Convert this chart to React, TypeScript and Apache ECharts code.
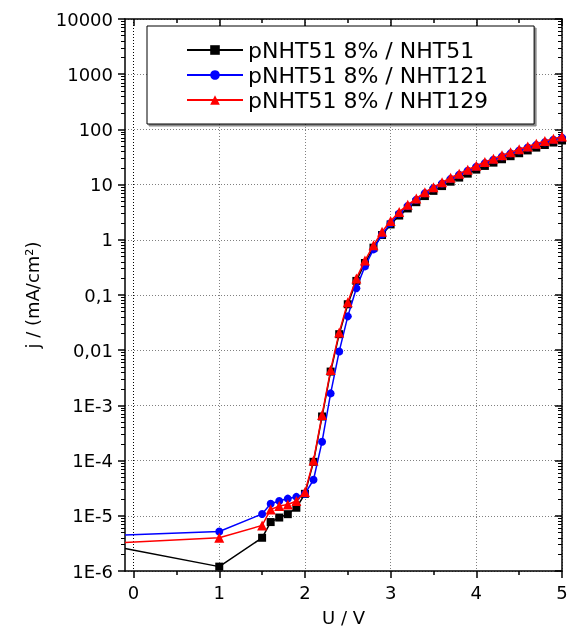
import { useEffect, useRef } from 'react';
import * as echarts from 'echarts';

const voltage = [
  -0.1, 1.0, 1.5, 1.6, 1.7, 1.8, 1.9, 2.0, 2.1, 2.2, 2.3, 2.4, 2.5, 2.6, 2.7, 2.8, 2.9,
  3.0, 3.1, 3.2, 3.3, 3.4, 3.5, 3.6, 3.7, 3.8, 3.9, 4.0, 4.1, 4.2, 4.3, 4.4, 4.5, 4.6,
  4.7, 4.8, 4.9, 5.0,
];

const jNHT51 = [
  2.55e-6, 1.2e-6, 4.0e-6, 7.7e-6, 9.3e-6, 1.07e-5, 1.4e-5, 2.5e-5, 9.5e-5, 6.3e-4,
  4.1e-3, 0.0195, 0.068, 0.18, 0.38, 0.72, 1.22, 1.9, 2.75, 3.7, 4.8, 6.2, 7.7, 9.4,
  11.3, 13.4, 15.8, 18.7, 21.8, 25, 28.8, 32.7, 37, 41.6, 46.8, 52.2, 57.8, 63,
];

const jNHT121 = [
  4.5e-6, 5.2e-6, 1.08e-5, 1.65e-5, 1.85e-5, 2.05e-5, 2.2e-5, 2.5e-5, 4.5e-5, 2.2e-4,
  1.65e-3, 9.5e-3, 0.041, 0.133, 0.33, 0.67, 1.25, 2.0, 3.0, 4.1, 5.3, 7.0, 8.6, 10.5,
  12.7, 15.1, 17.8, 21, 24.5, 28.2, 32.5, 36.8, 41.6, 47, 52.5, 58.5, 65, 71,
];

const jNHT129 = [
  3.3e-6, 4.0e-6, 6.7e-6, 1.3e-5, 1.5e-5, 1.6e-5, 1.85e-5, 2.7e-5, 1.0e-4, 6.7e-4,
  4.4e-3, 0.021, 0.074, 0.2, 0.42, 0.8, 1.4, 2.2, 3.2, 4.3, 5.6, 7.3, 9.0, 11.0, 13.3,
  15.8, 18.6, 22, 25.6, 29.5, 34, 38.5, 43.6, 49, 55, 61.5, 68, 74,
];

const seriesNames = ['pNHT51 8% / NHT51', 'pNHT51 8% / NHT121', 'pNHT51 8% / NHT129'];
const xMajorTicks = [0, 1, 2, 3, 4, 5];
const xMinorTicks = [0.5, 1.5, 2.5, 3.5, 4.5];
const yExponents = [-6, -5, -4, -3, -2, -1, 0, 1, 2, 3, 4];
const yTickLabels = ['1E-6', '1E-5', '1E-4', '1E-3', '0,01', '0,1', '1', '10', '100', '1000', '10000'];

const FONT = "'DejaVu Sans', sans-serif";

const yMinorTicks: number[] = [];
for (let e = -6; e < 4; e++) {
  for (let m = 2; m <= 9; m++) yMinorTicks.push(m * Math.pow(10, e));
}

function toPoints(ys: number[]) {
  return voltage.map((x, i) => (i === 0 ? { value: [x, ys[i]], symbol: 'none' } : [x, ys[i]]));
}

export default function App() {
  const ref = useRef<HTMLDivElement>(null);
  useEffect(() => {
    if (!ref.current) return;
    const chart = echarts.init(ref.current, undefined, { renderer: 'svg' });
    const black = '#000';
    const dotted = { color: '#808080', width: 1, type: [1, 2] as any };
    const baseX = {
      type: 'value' as const,
      min: -0.1,
      max: 5,
      axisLine: { show: false, onZero: false },
      axisLabel: { show: false },
      splitLine: { show: false },
    };
    const baseY = {
      type: 'log' as const,
      logBase: 10,
      min: 1e-6,
      max: 1e4,
      interval: 1,
      axisLine: { show: false, onZero: false },
      axisLabel: { show: false },
      splitLine: { show: false },
    };
    chart.setOption({
      animation: false,
      grid: { left: 125, right: 5, top: 19, bottom: 58, outerBoundsMode: 'none', containLabel: false },
      legend: {
        orient: 'vertical',
        left: 147,
        top: 26,
        padding: [13, 46, 13, 39],
        itemGap: 3,
        itemWidth: 56,
        itemHeight: 12,
        backgroundColor: '#fff',
        borderColor: '#000',
        borderWidth: 1,
        shadowColor: 'rgba(0,0,0,0.45)',
        shadowOffsetX: 2,
        shadowOffsetY: 2,
        shadowBlur: 0,
        textStyle: { fontFamily: FONT, fontSize: 22, color: '#000' },
        data: seriesNames,
      },
      xAxis: [
        {
          ...baseX,
          position: 'bottom',
          axisLine: { show: true, onZero: false, lineStyle: { color: black, width: 1.5 } },
          axisTick: { show: true, length: 7, inside: false, customValues: xMajorTicks, lineStyle: { color: black, width: 1.5 } },
          axisLabel: { show: true, customValues: xMajorTicks, margin: 12, fontFamily: FONT, fontSize: 18, color: black },
          splitLine: {
            show: true,
            lineStyle: { ...dotted, color: ['#000', '#808080', '#808080', '#808080', '#808080', '#808080'] },
          },
          name: 'U / V',
          nameLocation: 'middle',
          nameGap: 37,
          nameTextStyle: { fontFamily: FONT, fontSize: 18, color: black },
        },
        {
          ...baseX,
          position: 'bottom',
          axisTick: { show: true, length: 4, inside: false, customValues: xMinorTicks, lineStyle: { color: black, width: 1.5 } },
        },
        {
          ...baseX,
          position: 'top',
          axisLine: { show: true, onZero: false, lineStyle: { color: black, width: 1.5 } },
          axisTick: { show: true, length: 7, inside: true, customValues: xMajorTicks, lineStyle: { color: black, width: 1.5 } },
        },
        {
          ...baseX,
          position: 'top',
          axisTick: { show: true, length: 4, inside: true, customValues: xMinorTicks, lineStyle: { color: black, width: 1.5 } },
        },
      ],
      yAxis: [
        {
          ...baseY,
          position: 'left',
          axisLine: { show: true, onZero: false, lineStyle: { color: black, width: 1.5 } },
          axisTick: { show: true, length: 7, inside: false, lineStyle: { color: black, width: 1.5 } },
          axisLabel: {
            show: true,
            margin: 12,
            fontFamily: FONT,
            fontSize: 18,
            color: black,
            formatter: (v: number) => {
              const e = Math.round(Math.log10(v));
              const i = yExponents.indexOf(e);
              return i >= 0 ? yTickLabels[i] : '';
            },
          },
          splitLine: { show: true, lineStyle: dotted },
          name: 'j / (mA/cm²)',
          nameLocation: 'middle',
          nameGap: 84,
          nameTextStyle: { fontFamily: FONT, fontSize: 18, color: black },
        },
        {
          ...baseY,
          position: 'left',
          axisTick: { show: true, length: 4, inside: false, customValues: yMinorTicks, lineStyle: { color: black, width: 1 } },
        },
        {
          ...baseY,
          position: 'right',
          axisLine: { show: true, onZero: false, lineStyle: { color: black, width: 1.5 } },
          axisTick: { show: true, length: 7, inside: true, lineStyle: { color: black, width: 1.5 } },
        },
        {
          ...baseY,
          position: 'right',
          axisTick: { show: true, length: 4, inside: true, customValues: yMinorTicks, lineStyle: { color: black, width: 1 } },
        },
      ],
      series: [
        {
          type: 'line',
          name: seriesNames[0],
          data: toPoints(jNHT51),
          symbol: 'rect',
          symbolSize: 8,
          color: '#000000',
          lineStyle: { color: '#000000', width: 1.5 },
          itemStyle: { color: '#000000' },
          z: 2,
        },
        {
          type: 'line',
          name: seriesNames[1],
          data: toPoints(jNHT121),
          symbol: 'circle',
          symbolSize: 8,
          color: '#0000ff',
          lineStyle: { color: '#0000ff', width: 1.5 },
          itemStyle: { color: '#0000ff' },
          z: 3,
        },
        {
          type: 'line',
          name: seriesNames[2],
          data: toPoints(jNHT129),
          symbol: 'triangle',
          symbolSize: 10,
          color: '#ff0000',
          lineStyle: { color: '#ff0000', width: 1.5 },
          itemStyle: { color: '#ff0000' },
          z: 4,
        },
      ],
    });
    return () => chart.dispose();
  }, []);
  return <div ref={ref} style={{ position: 'fixed', left: 0, top: 0, width: 567, height: 629 }} />;
}
